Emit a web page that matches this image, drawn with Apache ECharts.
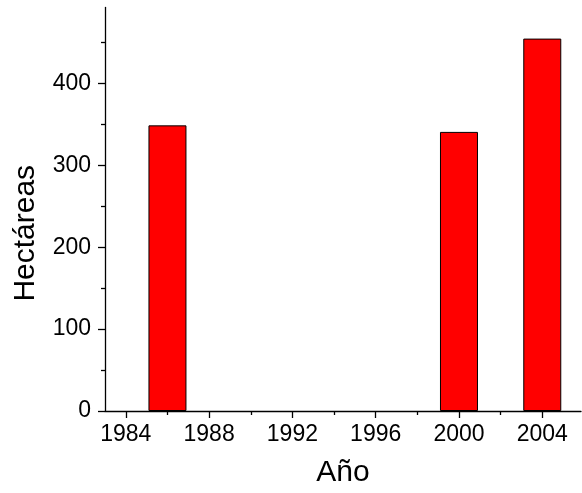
<!DOCTYPE html>
<html>
<head>
<meta charset="utf-8">
<script src="https://cdn.jsdelivr.net/npm/echarts@6/dist/echarts.min.js"></script>
<style>html,body{margin:0;padding:0;background:#fff}#c{width:582px;height:493px}</style>
</head>
<body>
<div id="c"></div>
<script>
const years = [1986, 2000, 2004];
const hectareas = [349, 341, 455];
const xTickLabels = [1984, 1988, 1992, 1996, 2000, 2004];
const xMinorTicks = [1986, 1990, 1994, 1998, 2002];
const yTickLabels = [0, 100, 200, 300, 400];
const yMinorTicks = [50, 150, 250, 350, 450];

const font = '"Liberation Sans", Arial, sans-serif';
const xMin = 1983, xMax = 2005.86, yMin = 0, yMax = 493;

const chart = echarts.init(document.getElementById('c'), null, {renderer: 'canvas'});
chart.setOption({
  animation: false,
  grid: {left: 105, right: 1, top: 7.5, bottom: 81.5, containLabel: false},
  xAxis: [{
    type: 'value', min: xMin, max: xMax,
    name: 'Año', nameLocation: 'middle', nameGap: 47,
    nameTextStyle: {fontFamily: font, fontSize: 30, color: '#000'},
    axisLine: {show: true, lineStyle: {color: '#000', width: 1.3}},
    axisTick: {show: true, inside: false, length: 7, customValues: xTickLabels, lineStyle: {color: '#000', width: 1.3}},
    axisLabel: {customValues: xTickLabels, margin: 12, fontFamily: font, fontSize: 23, color: '#000', formatter: v => String(v)},
    splitLine: {show: false}
  }, {
    type: 'value', min: xMin, max: xMax, position: 'bottom',
    axisLine: {show: false},
    axisTick: {show: true, inside: false, length: 4, customValues: xMinorTicks, lineStyle: {color: '#000', width: 1.3}},
    axisLabel: {show: false},
    splitLine: {show: false}
  }],
  yAxis: [{
    type: 'value', min: yMin, max: yMax,
    name: 'Hectáreas', nameLocation: 'middle', nameGap: 64, nameRotate: 90,
    nameTextStyle: {fontFamily: font, fontSize: 30, color: '#000', padding: [0, 48, 0, 0]},
    axisLine: {show: true, lineStyle: {color: '#000', width: 1.3}},
    axisTick: {show: true, inside: false, length: 7, customValues: yTickLabels, lineStyle: {color: '#000', width: 1.3}},
    axisLabel: {customValues: yTickLabels, margin: 14, fontFamily: font, fontSize: 23, color: '#000'},
    splitLine: {show: false}
  }, {
    type: 'value', min: yMin, max: yMax, position: 'left',
    axisLine: {show: false},
    axisTick: {show: true, inside: false, length: 4, customValues: yMinorTicks, lineStyle: {color: '#000', width: 1.3}},
    axisLabel: {show: false},
    splitLine: {show: false}
  }],
  series: [{
    type: 'bar',
    xAxisIndex: 0, yAxisIndex: 0,
    barWidth: 38,
    data: years.map((y, i) => [y, hectareas[i]]),
    itemStyle: {color: '#ff0000', borderColor: '#000', borderWidth: 1}
  }]
});
</script>
</body>
</html>
